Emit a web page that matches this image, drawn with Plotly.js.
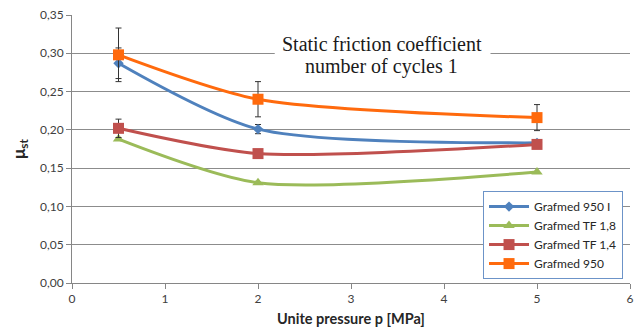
<!DOCTYPE html>
<html>
<head>
<meta charset="utf-8">
<script src="https://cdn.plot.ly/plotly-3.0.1.min.js"></script>
<style>
html,body{margin:0;padding:0;background:#fff;}
#chart{width:642px;height:336px;}
</style>
</head>
<body>
<div id="chart"></div>
<script>
// Data
const pressure = [0.5, 2, 5];
const seriesNames = ['Grafmed 950 I', 'Grafmed TF 1,8', 'Grafmed TF 1,4', 'Grafmed 950'];
const grafmed950I = [0.287, 0.201, 0.183];
const grafmedTF18 = [0.188, 0.131, 0.145];
const grafmedTF14 = [0.202, 0.169, 0.181];
const grafmed950 = [0.298, 0.240, 0.216];
const err950I = [0.020, 0.006, 0];
const errTF18 = [0, 0, 0];
const errTF14 = [0.012, 0, 0];
const err950 = [0.035, 0.023, 0.017];
const xTicks = [0, 1, 2, 3, 4, 5, 6];
const yTicks = [0, 0.05, 0.10, 0.15, 0.20, 0.25, 0.30, 0.35];
const chartTitleLines = ['Static friction coefficient', 'number of cycles 1'];

const colors = ['#4F81BD', '#9BBB59', '#C0504D', '#FF6A0D'];
const symbols = ['diamond', 'triangle-up', 'square', 'square'];
const sizes = [8, 10, 11, 11];
const values = [grafmed950I, grafmedTF18, grafmedTF14, grafmed950];
const errs = [err950I, errTF18, errTF14, err950];

const traces = values.map((v, i) => ({
  x: pressure,
  y: v,
  name: seriesNames[i],
  type: 'scatter',
  mode: 'lines+markers',
  line: {color: colors[i], width: 3, shape: 'spline', smoothing: 0.75},
  marker: {color: colors[i], symbol: symbols[i], size: sizes[i]},
  error_y: {type: 'data', array: errs[i], visible: errs[i].some(e => e > 0), color: '#333333', thickness: 1, width: 3}
}));

const serif = 'Liberation Serif, Times New Roman, serif';
const layout = {
  width: 642, height: 336,
  margin: {l: 72, r: 12, t: 15, b: 53},
  paper_bgcolor: '#ffffff', plot_bgcolor: '#ffffff',
  separators: ',.',
  font: {family: 'Lato, Liberation Sans, sans-serif', color: '#404040', size: 11},
  showlegend: true,
  legend: {
    x: 0.7366, y: 0.343, xanchor: 'left', yanchor: 'top',
    bgcolor: '#ffffff', bordercolor: '#6C93C8', borderwidth: 1,
    font: {size: 12, color: '#262626'},
    tracegroupgap: 0, itemwidth: 40
  },
  xaxis: {
    range: [0, 6], tickvals: xTicks, ticktext: xTicks.map(String),
    showgrid: false, zeroline: false,
    showline: true, linecolor: '#868686', linewidth: 1,
    ticks: 'outside', ticklen: 5, tickcolor: '#868686',
    tickfont: {size: 12, color: '#404040'},
    title: {text: '<b>Unite pressure p [MPa]</b>', font: {size: 14.5, color: '#262626'}, standoff: 8}
  },
  yaxis: {
    range: [0, 0.35], tickvals: yTicks, tickformat: '.2f',
    showgrid: true, gridcolor: '#8c8c8c', gridwidth: 1,
    zeroline: false,
    showline: true, linecolor: '#868686', linewidth: 1,
    ticks: 'outside', ticklen: 5, tickcolor: '#868686',
    tickfont: {size: 12, color: '#404040'},
    title: {text: '<b>μ<sub>st</sub></b>', font: {size: 17, color: '#262626'}, standoff: 10}
  },
  shapes: [{
    type: 'rect', xref: 'x', yref: 'y',
    x0: 2.18, x1: 4.5, y0: 0.2535, y1: 0.3415,
    fillcolor: '#ffffff', line: {width: 0}, layer: 'above'
  }],
  annotations: chartTitleLines.map((t, i) => ({
    xref: 'x', yref: 'y', x: 3.33, y: [0.3117, 0.2831][i],
    xanchor: 'center', yanchor: 'middle',
    text: t, showarrow: false,
    font: {family: serif, size: 20, color: '#1a1a1a'}
  }))
};

Plotly.newPlot('chart', traces, layout, {displayModeBar: false, staticPlot: true});
</script>
</body>
</html>
